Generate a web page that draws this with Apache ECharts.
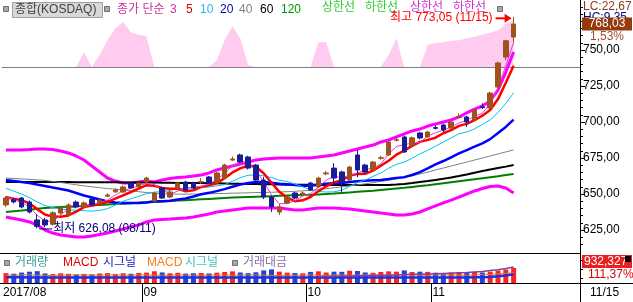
<!DOCTYPE html>
<html><head><meta charset="utf-8">
<script src="https://cdn.jsdelivr.net/npm/echarts@6/dist/echarts.min.js"></script>
<style>html,body{margin:0;padding:0;background:#fff;overflow:hidden}#c{width:633px;height:302px}</style>
</head><body><div id="c"></div>
<script>
const dates = ['08/07','08/08','08/09','08/10','08/11','08/14','08/16','08/17','08/18','08/21','08/22','08/23','08/24','08/25','08/28','08/29','08/30','08/31',
'09/01','09/04','09/05','09/06','09/07','09/08','09/11','09/12','09/13','09/14','09/15','09/18','09/19','09/20','09/21','09/22','09/25','09/26','09/27','09/28','09/29',
'10/10','10/11','10/12','10/13','10/16','10/17','10/18','10/19','10/20','10/23','10/24','10/25','10/26','10/27','10/30','10/31',
'11/01','11/02','11/03','11/06','11/07','11/08','11/09','11/10','11/13','11/14','11/15'];
const monthIdx = [0,18,39,55];
const monthText = ['2017/08','09','10','11'];
const opens = [642.4,646.0,647.2,644.4,632.0,632.0,629.0,636.8,635.4,644.4,641.0,646.5,643.8,648.5,651.5,651.4,657.6,654.9,658.3,645.1,654.2,647.9,654.2,658.3,657.6,658.3,661.8,658.3,661.1,673.6,677.1,675.7,670.1,659.7,647.9,637.5,643.8,650.7,649.5,657.6,654.9,664.0,668.0,665.3,659.7,677.1,670.1,666.7,674.8,677.1,687.3,689.6,683.5,692.4,689.6,696.1,697.9,695.8,703.2,703.5,701.4,710.5,709.7,724.3,745.1,759.0];
const closes = [647.2,644.5,641.0,637.5,627.5,628.5,637.0,640.3,642.4,641.0,643.8,642.4,645.8,649.3,652.8,654.9,654.2,657.6,661.1,650.7,647.2,651.4,657.6,652.8,654.2,658.5,657.6,664.6,670.1,674.3,672.2,668.0,659.7,647.9,641.0,641.0,647.9,647.2,650.7,652.8,661.1,664.6,661.1,658.3,668.7,666.7,665.3,672.2,675.2,686.1,687.7,679.2,689.0,688.9,693.0,695.6,694.4,700.0,703.6,700.0,708.3,710.0,720.1,741.0,756.45,768.03];
const lows = [641.0,643.5,640.0,636.5,626.08,627.0,628.0,635.5,634.5,640.0,640.5,641.5,643.0,647.8,650.8,650.8,653.5,654.2,657.8,644.0,646.5,647.0,653.5,652.0,653.5,657.0,656.8,657.5,660.5,672.8,671.5,667.0,659.0,646.5,637.5,635.5,643.0,646.5,648.8,652.0,654.0,663.0,656.3,651.4,659.0,661.8,664.5,666.0,673.8,676.5,686.5,678.5,683.0,688.0,689.0,694.8,693.0,695.0,702.5,696.5,700.8,709.0,709.0,723.5,743.0,755.0];
const highs = [648.5,647.5,648.0,645.5,636.0,633.5,638.0,641.5,643.5,645.5,644.8,647.5,646.8,650.5,654.0,655.8,658.5,658.5,662.0,651.5,655.0,652.5,658.5,659.2,658.5,661.0,662.5,665.5,671.0,676.0,678.0,676.5,671.0,662.0,649.0,643.0,649.0,651.5,651.8,658.5,662.0,666.0,671.5,666.2,669.5,680.6,671.0,673.0,676.5,687.0,690.0,690.5,690.0,693.2,693.8,697.8,698.8,700.8,706.0,704.3,709.0,713.0,721.0,742.0,757.0,773.05];
const ma3 = [648,646,644.2,641,635.3,631.2,631,635.3,639.9,641.2,642.4,642.4,644,645.8,649.3,652.3,654,655.6,657.6,656.5,653,649.8,652.1,653.9,654.9,655.2,656.8,660.2,664.1,669.7,672.2,671.5,666.6,658.5,649.5,643.3,643.3,645.4,648.6,650.2,654.9,659.5,662.3,661.3,662.7,664.6,666.9,668.1,670.9,677.8,683,684.3,685.3,685.7,690.3,692.5,694.3,696.7,699.3,701.2,704,706.1,712.8,723.7,739.2,755.2];
const ma5 = [647.9,646.5,645.8,643.5,639.5,635.8,634.3,634.2,635.1,637.8,640.9,642.0,643.1,644.5,646.8,649.0,651.4,653.8,656.1,655.7,654.2,653.6,653.6,651.9,652.6,654.9,656.1,657.5,661.0,665.0,667.8,669.8,668.9,664.4,657.8,651.5,647.5,645.0,645.6,647.9,651.9,655.3,658.1,659.6,662.8,663.9,664.0,666.2,669.6,673.1,677.3,680.1,683.4,686.2,687.6,689.1,692.2,694.4,697.3,698.7,701.3,704.4,708.4,715.9,727.2,739.1];
const ma10 = [654,652,650,647.5,644.5,642,640.5,639.5,639,638.7,638.4,638.1,638.6,639.8,642.3,645,646.7,648.4,650.3,651.3,651.6,652.5,653.7,654,654.2,654.5,654.9,655.6,656.5,658.8,661.3,663,663.2,662.7,661.4,659.6,658.7,656.9,655,652.8,651.7,651.4,651.5,652.6,655.3,657.9,659.7,662.2,664.6,667.9,670.6,672.1,674.8,677.9,680.3,683.2,686.1,688.9,691.8,693.1,695.2,698.3,701.4,706.6,712.9,720.2];
const ma20 = [659.7,659,658.3,657.6,656.6,655.6,654.5,653.5,652.4,650.7,649,647.6,646.2,644.8,644.1,643.7,643.7,643.7,644.1,645,645,645.3,646.2,646.9,648.3,649.8,650.8,652,653.4,655,656.5,657.7,658.4,658.4,657.8,657.1,656.8,656.3,655.7,655.8,656.5,657.2,657.4,657.6,658.4,658.8,659.2,659.5,659.8,660.4,661.2,661.7,663.2,665.2,667.8,670.6,672.9,675.5,678.2,680.5,682.9,685.2,688.1,692.3,696.6,701.7];
const ma40 = [661.1,660.8,660.5,660.2,659.8,659.4,658.7,658.0,657.2,656.4,655.6,655.0,654.4,653.8,653.3,652.8,652.2,651.6,651.0,650.5,650.0,650.0,649.9,649.9,650.0,650.0,650.1,650.3,650.4,650.6,650.7,650.8,651.0,651.1,651.2,651.4,651.6,651.9,652.2,652.6,653.1,653.7,654.3,654.9,655.6,656.3,657.1,657.9,658.7,659.5,660.4,661.5,662.7,663.9,665.2,666.7,668.0,669.4,670.8,672.2,673.6,675.0,676.4,677.8,679.2,680.6];
const ma60 = [658.3,658.3,658.3,658.3,658.3,658.3,658.3,658.3,658.3,658.2,658.2,658.2,658.1,658.1,658.1,658.0,658.0,658.0,657.9,657.9,657.8,657.8,657.7,657.7,657.6,657.6,657.5,657.4,657.3,657.2,657.1,657.0,656.9,656.8,656.7,656.6,656.5,656.5,656.4,656.4,656.4,656.3,656.3,656.3,656.3,656.3,656.3,656.3,656.3,656.3,656.6,657.0,657.6,658.3,659.0,659.8,660.6,661.5,662.5,663.6,664.8,666.0,667.0,668.0,669.0,670.1];
const ma120 = [637.5,638.0,638.5,639.1,639.7,640.3,640.6,640.9,641.2,641.5,641.8,642.1,642.4,642.7,643.0,643.3,643.6,643.9,644.2,644.5,644.8,645.1,645.4,645.7,646.0,646.3,646.6,646.9,647.2,647.5,647.7,647.9,648.1,648.3,648.5,648.7,648.9,649.1,649.3,649.5,649.7,650.0,650.3,650.7,651.1,651.5,651.9,652.3,652.8,653.3,653.8,654.3,654.9,655.5,656.1,656.8,657.5,658.2,658.9,659.6,660.3,661.0,661.7,662.4,663.2,663.9];
const bbUp = [680.6,680.6,680.6,680.9,681.3,681.3,680.9,679.9,678.5,676.4,673.6,669.4,665.3,661.1,659.0,657.6,657.6,658.3,659.0,658.3,659.7,660.8,661.5,661.8,662.5,663.2,664.6,666.7,668.1,669.4,670.8,672.2,673.6,674.3,674.7,675.0,675.0,675.0,675.0,675.0,675.7,676.4,677.1,678.5,679.9,681.3,682.6,684.0,686.1,687.5,689.6,691.7,693.8,695.1,697.2,698.6,700.0,701.4,703.5,706.3,709.0,711.1,714.6,722.2,734.7,748.6];
const bbDn = [634.0,633.0,631.9,630.6,628.5,625.0,622.9,621.5,620.8,620.1,620.1,620.8,621.9,622.9,624.3,625.7,627.1,628.5,630.6,631.9,632.3,632.6,633.0,633.3,634.0,635.1,636.1,637.5,638.2,638.9,639.6,640.3,640.3,640.3,640.3,640.3,639.6,638.9,638.9,639.6,640.3,640.3,640.3,639.9,639.6,638.9,638.2,637.5,636.8,636.1,635.4,635.4,636.1,637.5,639.6,641.7,643.8,645.8,647.9,650.0,652.1,653.8,655.2,655.6,654.2,650.7];
const osc = [0,0,0,0,0,0,0,0,0,0,22,0,18,40,58,67,52,48,46,0,0,0,0,0,0,0,0,10,40,61,43,3,0,0,0,0,0,0,0,0,37,37,0,0,0,0,0,0,0,18,43,0,0,0,33,36,37,39,40,43,45,48,51,55,64,70];
const volume = [612000,575000,648000,702000,735000,590000,548000,603000,571000,528000,566000,534000,592000,615000,563000,604000,571000,627000,645000,728000,655000,603000,634000,584000,606000,622000,593000,641000,684000,722000,653000,612000,665000,784000,846000,705000,642000,618000,604000,688000,725000,652000,703000,694000,762000,745000,653000,631000,684000,722000,703000,781000,683000,704000,692000,641000,623000,655000,664000,641000,683000,652000,705000,768000,837160,932327];
const volSignal = [20,20,20,19,19,19,19,19,19,19,19,19,19,19,19,19,19,19,19,19,19,19,19,19,19,19,19,19,19,19,19,19,19,19,19,19,19,19,19,19,19,19,19,19,19,19,19,19,19,19,19,19,19,19,19,19,19,19,19,19,20,20,21,23,26,30];
const volMacd = [27,27,28,28,27,26,26,27,27,28,28,27,27,28,28,27,27,28,28,27,27,27,28,28,27,27,28,28,28,27,27,28,28,27,26,26,27,27,28,28,27,27,28,28,27,27,28,28,27,27,28,28,28,27,27,28,28,28,27,27,28,29,30,31,33,36];
const volAmount = [null,null,null,null,null,null,null,null,null,null,null,null,null,null,null,null,null,null,null,null,null,null,null,null,null,null,null,null,null,null,null,null,null,null,null,null,null,null,null,null,22,23,23,24,24,25,25,26,27,27,28,29,30,30,31,32,33,34,35,36,38,40,43,46,50,55];
const priceTicks = [625,650,675,700,725,750];
const minorTicks = [615,620,630,635,640,645,655,660,665,670,680,685,690,695,705,710,715,720,730,735,740,745,755,760,765,770,775,780];

const F = "'Liberation Sans','Noto Sans CJK KR',sans-serif";
const UP = '#A0521E', DN = '#1C1C9A';
const N = dates.length;
const cats = dates.concat(['+1','+2','+3','+4','+5','+6','+7','+8']);
const YMIN = 750 - 202/1.44, YMAX = 750 + 50/1.44;
const VMAX = 1800000;
const fmt = v => v.toFixed(2).replace('.', ',');

const chart = echarts.init(document.getElementById('c'), null, {renderer:'canvas'});
const ln = (data, color, width, z) => ({type:'line', xAxisIndex:0, yAxisIndex:0, data, symbol:'none', silent:true, lineStyle:{color, width}, z});

const option = {
  animation:false,
  textStyle:{fontFamily:F},
  grid:[
    {left:2, top:0, width:578, height:252},
    {left:2, top:0, width:578, height:67},
    {left:2, top:254, width:578, height:29}
  ],
  xAxis:[
    {gridIndex:0, type:'category', data:cats, show:false},
    {gridIndex:1, type:'category', data:cats, axisLine:{show:true, onZero:false, lineStyle:{color:'#808080', width:1}}, axisTick:{show:false}, axisLabel:{show:false}, splitLine:{show:false}},
    {gridIndex:2, type:'category', data:cats, axisLine:{show:false},
      axisTick:{show:true, interval:(i)=> i===18||i===39||i===55, length:19, lineStyle:{color:'#000', width:1}},
      axisLabel:{show:true, interval:(i)=> monthIdx.indexOf(i)>=0, formatter:(v,i)=> { const k = monthIdx.indexOf(i); return k>=0 ? monthText[k] : ''; },
        align:'left', margin:4, padding:[0,0,0,-3], color:'#000', fontSize:12, fontFamily:F}, splitLine:{show:false}}
  ],
  yAxis:[
    {gridIndex:0, position:'right', min:YMIN, max:YMAX, axisLine:{show:false},
      axisTick:{show:true, customValues:priceTicks, length:5, lineStyle:{color:'#000'}},
      axisLabel:{show:true, customValues:priceTicks, formatter:v=>fmt(v), margin:3, color:'#000', fontSize:12, fontFamily:F},
      splitLine:{show:false}},
    {gridIndex:0, position:'right', min:YMIN, max:YMAX, axisLine:{show:false},
      axisTick:{show:true, customValues:minorTicks, length:3, lineStyle:{color:'#000'}},
      axisLabel:{show:false}, splitLine:{show:false}},
    {gridIndex:1, min:0, max:100, show:false},
    {gridIndex:2, position:'right', min:0, max:VMAX, axisLine:{show:false},
      axisTick:{show:true, customValues:[310000,869000,1428000], length:3, lineStyle:{color:'#000'}},
      axisLabel:{show:false}, splitLine:{show:false}},
    {gridIndex:2, min:0, max:100, show:false}
  ],
  series:[
    {type:'line', xAxisIndex:1, yAxisIndex:2, data:osc, symbol:'none', silent:true, lineStyle:{width:0}, areaStyle:{color:'#FFCCF0', opacity:1}, z:1},
    ln(bbUp,'#FF00FF',3,2), ln(bbDn,'#FF00FF',3,2),
    ln(ma120,'#008000',2,3), ln(ma60,'#000000',2,3), ln(ma40,'#808080',1,3),
    ln(ma20,'#0000FF',2.5,3), ln(ma10,'#00C0F0',1,3), ln(ma5,'#FF0000',2.5,3), ln(ma3,'#E040D0',1,3),
    {type:'candlestick', xAxisIndex:0, yAxisIndex:0, silent:true, barWidth:5,
      data: opens.map((o,i)=>[o, closes[i], lows[i], highs[i]]),
      itemStyle:{color:UP, color0:DN, borderColor:UP, borderColor0:DN, borderWidth:1}, z:5},
    {type:'bar', xAxisIndex:2, yAxisIndex:3, silent:true, barWidth:5,
      data: volume.map((v,i)=>({value:v, itemStyle:{color: closes[i]>=opens[i] ? '#FF2020' : '#2040E0'}})), z:2},
    {type:'line', xAxisIndex:2, yAxisIndex:4, data:volMacd, symbol:'none', silent:true, lineStyle:{color:'#D08030', width:1}, z:3},
    {type:'line', xAxisIndex:2, yAxisIndex:4, data:volSignal, symbol:'none', silent:true, lineStyle:{color:'#2030E0', width:2.5}, z:3},
    {type:'line', xAxisIndex:2, yAxisIndex:4, data:volAmount, symbol:'none', silent:true, lineStyle:{color:'#8040A0', width:1.5}, z:3}
  ]
};
chart.setOption(option);

const P = (i, v) => chart.convertToPixel({xAxisIndex:0, yAxisIndex:0}, [i, v]);
const hiVal = Math.max(...highs), iHi = highs.indexOf(hiVal);
const loVal = Math.min(...lows), iLo = lows.indexOf(loVal);
const [hx, hy] = P(iHi, hiVal);
const [lx, ly] = P(iLo, loVal);
const [, cy] = P(N-1, closes[N-1]);
const pct = (closes[N-1]/closes[N-2]-1)*100;
const lastVol = volume[N-1], volPct = lastVol/volume[N-2]*100;

const T = (x, y, text, fill, font, align) => ({type:'text', x, y, silent:true, z:50,
  style:{text, fill, font: font || ('12px ' + F), align: align || 'left', verticalAlign:'middle'}});
const L = (x1,y1,x2,y2,stroke,w) => ({type:'line', silent:true, z:40, shape:{x1,y1,x2,y2}, style:{stroke, lineWidth:w||1}});
const sq = (x,y) => ({type:'rect', silent:true, z:50, shape:{x,y,width:5,height:5}, style:{fill:'#A8A8A8', stroke:'#707070', lineWidth:1}});

const g = [
  L(0,253.5,580,253.5,'#000'), L(0,283.5,633,283.5,'#000'), L(580.5,0,580.5,302,'#000'),
  sq(3.5,6.5),
  {type:'rect', silent:true, z:49, shape:{x:12.5,y:2.5,width:90,height:15}, style:{fill:'#D8D8D8', stroke:'#A0A0A0', lineWidth:1}},
  T(15,10,'종합(KOSDAQ)','#404040'),
  sq(104.5,6.5),
  T(117,10,'종가 단순','#CC3399'), T(170,10,'3','#CC3399'), T(186,10,'5','#DD0000'),
  T(200,10,'10','#22B8F0'), T(220,10,'20','#000099'), T(239,10,'40','#808080'),
  T(260,10,'60','#000000'), T(281,10,'120','#009900'),
  T(322,8,'상한선','#33CC33'), T(365,8,'하한선','#33CC33'),
  T(410,8,'상한선','#CC33CC'), T(453,8,'하한선','#CC33CC'),
  sq(497.5,6.5),
  T(hx-21, hy+1, '최고 ' + fmt(hiVal) + ' (' + dates[iHi] + ')', '#FF0000', '12px ' + F, 'right'),
  L(hx-18, hy+1.5, hx-6, hy+1.5, '#FF0000', 2),
  {type:'polygon', silent:true, z:41, shape:{points:[[hx-9,hy-3],[hx-2,hy+1.5],[hx-9,hy+6]]}, style:{fill:'#FF0000'}},
  L(lx+2, ly+0.5, lx+15, ly+0.5, '#00007F', 1),
  T(lx+16, ly, '최저 ' + fmt(loVal) + ' (' + dates[iLo] + ')', '#00007F'),
  T(583, cy-17, 'LC:22,67', '#8B3A1A'),
  T(583, cy-6, 'HC:9,35', '#00007F'),
  {type:'rect', silent:true, z:51, shape:{x:582, y:Math.round(cy)-6.5, width:50, height:13}, style:{fill:'#943A0C'}},
  {type:'text', x:607, y:cy, silent:true, z:52, style:{text:fmt(closes[N-1]), fill:'#FFFFFF', font:'12px '+F, align:'center', verticalAlign:'middle'}},
  T(590, cy+13, fmt(pct)+'%', '#A0522D'),
  sq(4.5,260.5),
  T(15,263,'거래량','#3A9A9A'), T(63,263,'MACD','#E00000'), T(103,263,'시그널','#2020C0'),
  T(147,263,'MACD','#F08020'), T(185,263,'시그널','#40C0C0'),
  sq(232.5,260.5), T(243,263,'거래대금','#8870A8'),
  {type:'rect', silent:true, z:51, shape:{x:582, y:255, width:50, height:13}, style:{fill:'#E82020'}},
  {type:'text', x:584, y:261.5, silent:true, z:52, style:{text:lastVol.toLocaleString('en-US'), fill:'#FFFFFF', font:'12px '+F, align:'left', verticalAlign:'middle'}},
  {type:'rect', silent:true, z:53, shape:{x:625, y:256, width:6, height:6}, style:{fill:'#000'}},
  T(588, 275, fmt(volPct)+'%', '#E00000'),
  T(590, 293, dates[N-1], '#000')
];
chart.setOption({graphic:g});
</script>
</body></html>
